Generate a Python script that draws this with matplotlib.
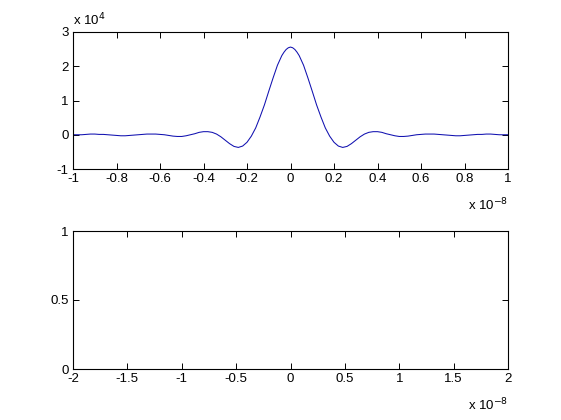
import matplotlib
matplotlib.use("Agg")
import matplotlib.pyplot as plt
from matplotlib.ticker import FuncFormatter

plt.rcParams['font.family'] = ['Liberation Sans', 'DejaVu Sans']
plt.rcParams['axes.unicode_minus'] = False

# Time axis in units of 1e-8, amplitude in units of 1e4
t_half = [0.00, 0.01, 0.02, 0.03, 0.04, 0.06, 0.08, 0.10, 0.12, 0.14, 0.16, 0.18,
          0.20, 0.22, 0.24, 0.26, 0.28, 0.30, 0.32, 0.34, 0.36, 0.38,
          0.40, 0.42, 0.44, 0.46, 0.48, 0.50, 0.52, 0.54, 0.56, 0.58,
          0.60, 0.62, 0.64, 0.66, 0.68, 0.70, 0.72, 0.74, 0.76, 0.78,
          0.80, 0.82, 0.84, 0.86, 0.88, 0.90, 0.92, 0.94, 0.96, 0.98, 1.00]
amp_half = [2.56, 2.54, 2.49, 2.41, 2.31, 2.03, 1.66, 1.27, 0.87, 0.52, 0.20, -0.04,
            -0.22, -0.33, -0.37, -0.34, -0.26, -0.16, -0.06, 0.02, 0.07, 0.09,
            0.09, 0.07, 0.03, 0.00, -0.03, -0.05, -0.05, -0.04, -0.02, 0.00,
            0.01, 0.02, 0.02, 0.02, 0.01, 0.00, -0.01, -0.02, -0.03, -0.03,
            -0.02, -0.01, 0.00, 0.01, 0.01, 0.02, 0.02, 0.01, 0.00, 0.00, 0.00]

t = [-v for v in t_half[:0:-1]] + t_half
amp = amp_half[:0:-1] + amp_half

top_xticks = [-1, -0.8, -0.6, -0.4, -0.2, 0, 0.2, 0.4, 0.6, 0.8, 1]
top_yticks = [-1, 0, 1, 2, 3]
bot_xticks = [-2, -1.5, -1, -0.5, 0, 0.5, 1, 1.5, 2]
bot_yticks = [0, 0.5, 1]

fig = plt.figure(figsize=(5.61, 4.20), dpi=100)
fig.patch.set_facecolor('white')

fs = 9.5
fmt = FuncFormatter(lambda v, p: '%g' % round(v, 6))

def style(ax):
    for s in ax.spines.values():
        s.set_linewidth(0.8)
    ax.tick_params(direction='in', length=4, width=0.7, top=True, right=True,
                   labelsize=fs, pad=3)
    ax.xaxis.set_major_formatter(fmt)
    ax.yaxis.set_major_formatter(fmt)

ax1 = fig.add_axes([73/561, 1-169/420, 435/561, 137/420])
ax1.plot(t, amp, color='#1010b0', lw=0.75)
ax1.set_xlim(-1, 1)
ax1.set_ylim(-1, 3)
ax1.set_xticks(top_xticks)
ax1.set_yticks(top_yticks)
style(ax1)
ax1.text(0.0, 1.03, r'x 10$^{4}$', transform=ax1.transAxes, fontsize=fs,
         ha='left', va='bottom')
ax1.text(1.0, -0.20, r'x 10$^{-8}$', transform=ax1.transAxes, fontsize=fs,
         ha='right', va='top')

ax2 = fig.add_axes([73/561, 1-369/420, 435/561, 138/420])
ax2.set_xlim(-2, 2)
ax2.set_ylim(0, 1)
ax2.set_xticks(bot_xticks)
ax2.set_yticks(bot_yticks)
style(ax2)
ax2.text(1.0, -0.20, r'x 10$^{-8}$', transform=ax2.transAxes, fontsize=fs,
         ha='right', va='top')

fig.savefig('out.png', dpi=100, facecolor='white')
